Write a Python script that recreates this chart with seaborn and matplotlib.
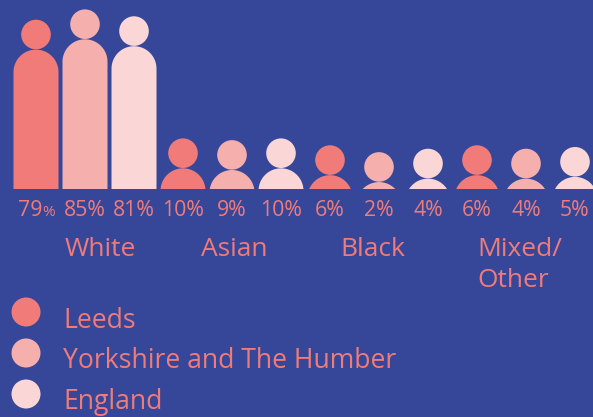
import numpy as np
import pandas as pd
import matplotlib
matplotlib.use("Agg")
import matplotlib.pyplot as plt
import matplotlib.transforms as mtransforms
import seaborn as sns
from matplotlib.patches import Ellipse, Circle

# data
groups = ["White", "Asian", "Black", "Mixed/\nOther"]
regions = ["Leeds", "Yorkshire and The Humber", "England"]
white = [79, 85, 81]
asian = [10, 9, 10]
black = [6, 2, 4]
mixed = [6, 4, 5]

colors = ["#f07b79", "#f5b0ae", "#fad7d6"]
bg = "#36479a"
txt = "#f07b79"

rows = []
for g, vals in zip(groups, [white, asian, black, mixed]):
    for r, v in zip(regions, vals):
        rows.append({"group": g, "region": r, "value": v, "key": g + "|" + r})
df = pd.DataFrame(rows)

plt.rcParams["font.family"] = ["Open Sans", "DejaVu Sans"]

W, H = 593, 417
fig = plt.figure(figsize=(W / 100, H / 100), dpi=100, facecolor=bg)

floor_px = 189      # where the figures stand
px_x = 49.0         # px per person slot
px_y = 1.72         # px per percent
x0 = 36.0           # centre of first person
ylo = -3.5 / px_y

ax = fig.add_axes([0, 1 - floor_px / H, 1, floor_px / H])
ax.set_facecolor(bg)

sns.barplot(data=df, x="key", y="value", hue="region", palette=colors,
            saturation=1, dodge=False, width=45 / px_x, legend=False, ax=ax)

ax.set_xlim(-x0 / px_x, (W - x0) / px_x)
ax.set_ylim(ylo, ylo + floor_px / px_y)
ax.axis("off")

# overlay in pixel units for the text
ov = fig.add_axes([0, 0, 1, 1], zorder=3)
ov.set_xlim(0, W)
ov.set_ylim(H, 0)
ov.axis("off")
ov.patch.set_alpha(0)
blend = mtransforms.blended_transform_factory(ax.transData, ov.transData)


def person(cx, v, color):
    r = 22.5
    h = (v - ylo) * px_y
    c = h - r
    if c >= 0:
        t = np.linspace(np.pi, 0, 80)
        xs = np.r_[-r, r * np.cos(t), r]
        ys = np.r_[0, c + r * np.sin(t), 0]
    else:
        a = np.arcsin(-c / r)
        t = np.linspace(np.pi - a, a, 80)
        xs = r * np.cos(t)
        ys = c + r * np.sin(t)
    ax.fill(cx + xs / px_x, ylo + ys / px_y, color=color, lw=0)
    hr = 14.8
    ax.add_patch(Ellipse((cx, v + (hr + 0.3) / px_y), 2 * hr / px_x, 2 * hr / px_y,
                         color=color, lw=0))


bars = [p for p in ax.patches if p.get_height() > 0]
bars.sort(key=lambda p: p.get_x())
for i, p in enumerate(bars):
    cx = p.get_x() + p.get_width() / 2
    v = p.get_height()
    col = p.get_facecolor()
    p.set_visible(False)
    person(cx, v, col)
    if i == 0:
        ov.text(cx + 6 / px_x, 216, f"{v:.0f}", transform=blend, ha="right",
                va="baseline", fontsize=15.3, color=txt)
        ov.text(cx + 6 / px_x, 216, "%", transform=blend, ha="left",
                va="baseline", fontsize=11, color=txt)
    else:
        ov.text(cx, 216, f"{v:.0f}%", transform=blend, ha="center",
                va="baseline", fontsize=15.3, color=txt)

# group labels
group_x = [1.31, 4.04, 6.88, 9.0]
group_ha = ["center", "center", "center", "left"]
for g, gx, ha in zip(groups, group_x, group_ha):
    for j, line in enumerate(g.split("\n")):
        ov.text(gx, 256 + 31 * j, line, transform=blend, ha=ha, va="baseline",
                fontsize=19, color=txt)

# legend
for k, (r, c) in enumerate(zip(regions, colors)):
    y = 312 + 41 * k
    ov.add_patch(Circle((26, y), 14.5, color=c, lw=0))
    ov.text(63, y + 15.5, r, ha="left", va="baseline", fontsize=19.1, color=txt)

fig.savefig("out.png", dpi=100, facecolor=bg)
